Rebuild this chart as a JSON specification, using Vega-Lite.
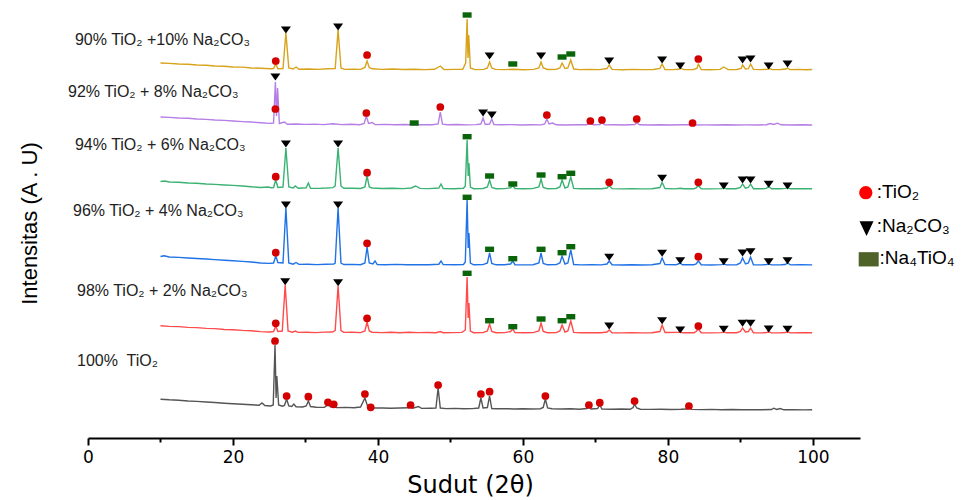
{
"$schema": "https://vega.github.io/schema/vega-lite/v6.json",
"autosize": "none",
"width": 772,
"height": 433,
"padding": {"left": 88, "top": 5, "right": 113, "bottom": 62},
"background": "white",
"config": {"view": {"stroke": null}},
"datasets": {
"lines": [
{"s":"T90","x":10,"y":375},{"s":"T90","x":11.2,"y":374.6},{"s":"T90","x":12.5,"y":374},{"s":"T90","x":13.8,"y":373.8},{"s":"T90","x":15,"y":373},{"s":"T90","x":16.3,"y":372.8},{"s":"T90","x":17.5,"y":372},{"s":"T90","x":18.8,"y":371.8},{"s":"T90","x":20,"y":371},{"s":"T90","x":21.3,"y":370.9},{"s":"T90","x":22.5,"y":370},{"s":"T90","x":23.8,"y":369.8},{"s":"T90","x":25.3,"y":369.2},{"s":"T90","x":25.6,"y":369.5},{"s":"T90","x":25.9,"y":374},{"s":"T90","x":26.2,"y":369.3},{"s":"T90","x":26.9,"y":369.5},{"s":"T90","x":27.3,"y":405},{"s":"T90","x":27.7,"y":370},{"s":"T90","x":28.3,"y":369},{"s":"T90","x":28.7,"y":371},{"s":"T90","x":29.1,"y":368.8},{"s":"T90","x":30.5,"y":369},{"s":"T90","x":31.8,"y":368.6},{"s":"T90","x":33,"y":369.2},{"s":"T90","x":34.1,"y":369.5},{"s":"T90","x":34.5,"y":408},{"s":"T90","x":34.9,"y":370},{"s":"T90","x":35.4,"y":368.6},{"s":"T90","x":36.5,"y":368.8},{"s":"T90","x":37.6,"y":368.6},{"s":"T90","x":38.2,"y":370.5},{"s":"T90","x":38.5,"y":377},{"s":"T90","x":38.8,"y":370.5},{"s":"T90","x":39.2,"y":369.2},{"s":"T90","x":40.5,"y":368.6},{"s":"T90","x":42,"y":369},{"s":"T90","x":43.5,"y":368.5},{"s":"T90","x":45,"y":368.8},{"s":"T90","x":46.5,"y":368.4},{"s":"T90","x":47.8,"y":368.7},{"s":"T90","x":48.6,"y":372},{"s":"T90","x":49.1,"y":368.4},{"s":"T90","x":50.5,"y":368.6},{"s":"T90","x":51.7,"y":368.8},{"s":"T90","x":52.1,"y":375},{"s":"T90","x":52.3,"y":419},{"s":"T90","x":52.42,"y":380},{"s":"T90","x":52.52,"y":403},{"s":"T90","x":52.75,"y":370},{"s":"T90","x":53.4,"y":368.4},{"s":"T90","x":54.6,"y":368.6},{"s":"T90","x":55.1,"y":370},{"s":"T90","x":55.4,"y":376},{"s":"T90","x":55.7,"y":370},{"s":"T90","x":56.2,"y":368.6},{"s":"T90","x":57.5,"y":368.4},{"s":"T90","x":58.6,"y":368.8},{"s":"T90","x":60,"y":368.3},{"s":"T90","x":61.5,"y":368.6},{"s":"T90","x":62.2,"y":370},{"s":"T90","x":62.5,"y":376},{"s":"T90","x":62.8,"y":370},{"s":"T90","x":63.4,"y":368.5},{"s":"T90","x":64.6,"y":368.6},{"s":"T90","x":65.1,"y":370},{"s":"T90","x":65.4,"y":375},{"s":"T90","x":65.8,"y":369.5},{"s":"T90","x":66.2,"y":370},{"s":"T90","x":66.6,"y":378},{"s":"T90","x":67,"y":369},{"s":"T90","x":67.8,"y":368.4},{"s":"T90","x":69.2,"y":368.6},{"s":"T90","x":70.6,"y":368.4},{"s":"T90","x":71.6,"y":369.5},{"s":"T90","x":71.9,"y":373},{"s":"T90","x":72.3,"y":368.6},{"s":"T90","x":73.8,"y":368.3},{"s":"T90","x":75.2,"y":368.6},{"s":"T90","x":76.6,"y":368.4},{"s":"T90","x":78,"y":368.5},{"s":"T90","x":78.9,"y":369.6},{"s":"T90","x":79.2,"y":374},{"s":"T90","x":79.6,"y":368.5},{"s":"T90","x":80.6,"y":368.4},{"s":"T90","x":81.5,"y":368.7},{"s":"T90","x":81.8,"y":369.8},{"s":"T90","x":82.2,"y":368.4},{"s":"T90","x":83.5,"y":368.5},{"s":"T90","x":84,"y":369.6},{"s":"T90","x":84.2,"y":374},{"s":"T90","x":84.6,"y":368.5},{"s":"T90","x":85.8,"y":368.3},{"s":"T90","x":87.2,"y":368.6},{"s":"T90","x":87.7,"y":371},{"s":"T90","x":88.3,"y":368.4},{"s":"T90","x":89.5,"y":368.5},{"s":"T90","x":90.1,"y":369.5},{"s":"T90","x":90.3,"y":373},{"s":"T90","x":90.7,"y":369},{"s":"T90","x":91.1,"y":369.3},{"s":"T90","x":91.4,"y":374},{"s":"T90","x":91.8,"y":368.6},{"s":"T90","x":92.8,"y":368.4},{"s":"T90","x":93.7,"y":368.8},{"s":"T90","x":94,"y":369.5},{"s":"T90","x":94.4,"y":368.4},{"s":"T90","x":95.6,"y":368.5},{"s":"T90","x":96.3,"y":369},{"s":"T90","x":96.5,"y":370},{"s":"T90","x":96.8,"y":368.4},{"s":"T90","x":98,"y":368.6},{"s":"T90","x":99,"y":368.3},{"s":"T90","x":99.9,"y":368.5},

{"s":"T92","x":10,"y":321},{"s":"T92","x":11.2,"y":320.6},{"s":"T92","x":12.5,"y":320},{"s":"T92","x":13.8,"y":319.8},{"s":"T92","x":15,"y":319},{"s":"T92","x":16.3,"y":318.6},{"s":"T92","x":17.5,"y":318},{"s":"T92","x":18.8,"y":317.6},{"s":"T92","x":20,"y":317},{"s":"T92","x":21.3,"y":316.4},{"s":"T92","x":22.5,"y":316},{"s":"T92","x":23.8,"y":315.2},{"s":"T92","x":25,"y":314.6},{"s":"T92","x":25.6,"y":315},{"s":"T92","x":25.85,"y":356},{"s":"T92","x":26.0,"y":322},{"s":"T92","x":26.15,"y":350},{"s":"T92","x":26.4,"y":314.5},{"s":"T92","x":27.1,"y":316},{"s":"T92","x":27.5,"y":313.8},{"s":"T92","x":28.7,"y":314},{"s":"T92","x":30,"y":313.6},{"s":"T92","x":31.2,"y":313.9},{"s":"T92","x":32.5,"y":313.4},{"s":"T92","x":33.8,"y":314.2},{"s":"T92","x":35,"y":313.4},{"s":"T92","x":36.3,"y":313.7},{"s":"T92","x":37.5,"y":313.3},{"s":"T92","x":38.1,"y":314.5},{"s":"T92","x":38.4,"y":322},{"s":"T92","x":38.7,"y":314.5},{"s":"T92","x":39.2,"y":315.5},{"s":"T92","x":39.6,"y":313.4},{"s":"T92","x":41,"y":313.6},{"s":"T92","x":42.3,"y":313.2},{"s":"T92","x":43.6,"y":313.5},{"s":"T92","x":45,"y":313.2},{"s":"T92","x":46.3,"y":313.4},{"s":"T92","x":47.5,"y":313.2},{"s":"T92","x":48.3,"y":314},{"s":"T92","x":48.6,"y":326},{"s":"T92","x":48.9,"y":313.8},{"s":"T92","x":49.6,"y":313.2},{"s":"T92","x":51,"y":313.5},{"s":"T92","x":52.3,"y":313.1},{"s":"T92","x":53.5,"y":313.4},{"s":"T92","x":54.2,"y":314},{"s":"T92","x":54.5,"y":320},{"s":"T92","x":54.8,"y":313.6},{"s":"T92","x":55.4,"y":314},{"s":"T92","x":55.7,"y":319},{"s":"T92","x":56,"y":313.5},{"s":"T92","x":57,"y":313.2},{"s":"T92","x":58.4,"y":313.4},{"s":"T92","x":59.8,"y":313},{"s":"T92","x":61.2,"y":313.3},{"s":"T92","x":62.5,"y":313.1},{"s":"T92","x":63,"y":314},{"s":"T92","x":63.3,"y":319},{"s":"T92","x":63.6,"y":314},{"s":"T92","x":64.1,"y":315},{"s":"T92","x":64.6,"y":313.2},{"s":"T92","x":66,"y":313},{"s":"T92","x":67.4,"y":313.3},{"s":"T92","x":68.8,"y":313.2},{"s":"T92","x":69.3,"y":315.5},{"s":"T92","x":69.7,"y":313.2},{"s":"T92","x":70.6,"y":313.4},{"s":"T92","x":70.9,"y":315.5},{"s":"T92","x":71.3,"y":313.1},{"s":"T92","x":72.6,"y":313.2},{"s":"T92","x":74,"y":313},{"s":"T92","x":75.4,"y":313.5},{"s":"T92","x":75.7,"y":315},{"s":"T92","x":76.1,"y":313.2},{"s":"T92","x":77.5,"y":313},{"s":"T92","x":79,"y":313.3},{"s":"T92","x":80.4,"y":313},{"s":"T92","x":81.8,"y":313.2},{"s":"T92","x":83.2,"y":313.3},{"s":"T92","x":83.4,"y":314},{"s":"T92","x":83.7,"y":313},{"s":"T92","x":85.2,"y":313.1},{"s":"T92","x":86.6,"y":313},{"s":"T92","x":88,"y":313.2},{"s":"T92","x":89.4,"y":313},{"s":"T92","x":90.8,"y":313.1},{"s":"T92","x":92.2,"y":313},{"s":"T92","x":93.6,"y":313.3},{"s":"T92","x":94.1,"y":314.5},{"s":"T92","x":94.6,"y":313.5},{"s":"T92","x":95.1,"y":314.8},{"s":"T92","x":95.6,"y":313.2},{"s":"T92","x":97,"y":313},{"s":"T92","x":98.5,"y":313.2},{"s":"T92","x":99.9,"y":313},

{"s":"T94","x":10,"y":256.5},{"s":"T94","x":10.6,"y":257},{"s":"T94","x":11.2,"y":256},{"s":"T94","x":12.5,"y":255.8},{"s":"T94","x":13.8,"y":255},{"s":"T94","x":15,"y":254.8},{"s":"T94","x":16.3,"y":254},{"s":"T94","x":17.5,"y":253.6},{"s":"T94","x":18.8,"y":253},{"s":"T94","x":20,"y":252.6},{"s":"T94","x":21.3,"y":252},{"s":"T94","x":22.5,"y":251.2},{"s":"T94","x":23.8,"y":250.5},{"s":"T94","x":24.9,"y":251},{"s":"T94","x":25.3,"y":250.2},{"s":"T94","x":25.6,"y":250.5},{"s":"T94","x":25.9,"y":258},{"s":"T94","x":26.2,"y":250.5},{"s":"T94","x":26.9,"y":251},{"s":"T94","x":27.3,"y":290},{"s":"T94","x":27.7,"y":251},{"s":"T94","x":28.3,"y":250},{"s":"T94","x":28.6,"y":252},{"s":"T94","x":29,"y":249.8},{"s":"T94","x":30.1,"y":250.2},{"s":"T94","x":30.4,"y":255},{"s":"T94","x":30.7,"y":249.8},{"s":"T94","x":31.8,"y":249.6},{"s":"T94","x":33,"y":250},{"s":"T94","x":33.8,"y":250.4},{"s":"T94","x":34.1,"y":252},{"s":"T94","x":34.5,"y":290},{"s":"T94","x":34.9,"y":252},{"s":"T94","x":35.3,"y":249.7},{"s":"T94","x":36.5,"y":249.8},{"s":"T94","x":37.6,"y":249.5},{"s":"T94","x":38.2,"y":251},{"s":"T94","x":38.5,"y":262},{"s":"T94","x":38.8,"y":251},{"s":"T94","x":39.2,"y":250},{"s":"T94","x":40.5,"y":249.5},{"s":"T94","x":42,"y":249.8},{"s":"T94","x":43.5,"y":249.4},{"s":"T94","x":44.6,"y":250},{"s":"T94","x":45.2,"y":252},{"s":"T94","x":45.8,"y":249.6},{"s":"T94","x":47,"y":249.4},{"s":"T94","x":48.4,"y":250},{"s":"T94","x":48.7,"y":254},{"s":"T94","x":49,"y":249.5},{"s":"T94","x":50.5,"y":249.3},{"s":"T94","x":51.8,"y":249.8},{"s":"T94","x":52.05,"y":252},{"s":"T94","x":52.3,"y":298},{"s":"T94","x":52.45,"y":262},{"s":"T94","x":52.55,"y":275},{"s":"T94","x":52.75,"y":251},{"s":"T94","x":53.2,"y":249.3},{"s":"T94","x":54.5,"y":249.5},{"s":"T94","x":55.1,"y":251},{"s":"T94","x":55.4,"y":258},{"s":"T94","x":55.7,"y":250.5},{"s":"T94","x":56.3,"y":249.3},{"s":"T94","x":57.5,"y":249.4},{"s":"T94","x":58.3,"y":250.2},{"s":"T94","x":58.6,"y":252.5},{"s":"T94","x":58.9,"y":249.5},{"s":"T94","x":60,"y":249.3},{"s":"T94","x":61.3,"y":249.4},{"s":"T94","x":62.2,"y":251},{"s":"T94","x":62.5,"y":259},{"s":"T94","x":62.8,"y":250.5},{"s":"T94","x":63.4,"y":249.3},{"s":"T94","x":64.6,"y":249.5},{"s":"T94","x":65.1,"y":251},{"s":"T94","x":65.4,"y":258},{"s":"T94","x":65.8,"y":250},{"s":"T94","x":66.2,"y":251},{"s":"T94","x":66.6,"y":261},{"s":"T94","x":67,"y":249.6},{"s":"T94","x":68,"y":249.2},{"s":"T94","x":69.5,"y":249.4},{"s":"T94","x":70.8,"y":249.2},{"s":"T94","x":71.6,"y":250},{"s":"T94","x":71.9,"y":252.5},{"s":"T94","x":72.3,"y":249.4},{"s":"T94","x":73.6,"y":249.1},{"s":"T94","x":75,"y":249.3},{"s":"T94","x":76.4,"y":249.1},{"s":"T94","x":77.8,"y":249.3},{"s":"T94","x":78.9,"y":250.5},{"s":"T94","x":79.2,"y":255.5},{"s":"T94","x":79.6,"y":249.5},{"s":"T94","x":80.9,"y":249.1},{"s":"T94","x":81.7,"y":249.8},{"s":"T94","x":82.2,"y":249.2},{"s":"T94","x":83.6,"y":249.3},{"s":"T94","x":83.9,"y":250.2},{"s":"T94","x":84.2,"y":252.5},{"s":"T94","x":84.6,"y":249.3},{"s":"T94","x":85.9,"y":249.1},{"s":"T94","x":87.4,"y":249.4},{"s":"T94","x":87.7,"y":250.5},{"s":"T94","x":88.1,"y":249.2},{"s":"T94","x":89.4,"y":249.3},{"s":"T94","x":90,"y":250.5},{"s":"T94","x":90.3,"y":254},{"s":"T94","x":90.7,"y":249.8},{"s":"T94","x":91.1,"y":250.5},{"s":"T94","x":91.4,"y":254},{"s":"T94","x":91.8,"y":249.3},{"s":"T94","x":93,"y":249.2},{"s":"T94","x":93.6,"y":249.6},{"s":"T94","x":93.9,"y":251.5},{"s":"T94","x":94.3,"y":249.2},{"s":"T94","x":95.5,"y":249.3},{"s":"T94","x":96.2,"y":249.6},{"s":"T94","x":96.5,"y":250.5},{"s":"T94","x":96.9,"y":249.2},{"s":"T94","x":98.3,"y":249.4},{"s":"T94","x":99.9,"y":249.2},

{"s":"T96","x":10,"y":181.5},{"s":"T96","x":10.5,"y":182.3},{"s":"T96","x":11.2,"y":181},{"s":"T96","x":12.5,"y":180.6},{"s":"T96","x":13.8,"y":180},{"s":"T96","x":15,"y":179.5},{"s":"T96","x":16.3,"y":179},{"s":"T96","x":17.5,"y":178.4},{"s":"T96","x":18.8,"y":177.8},{"s":"T96","x":20,"y":177.2},{"s":"T96","x":21.3,"y":176.6},{"s":"T96","x":22.5,"y":176},{"s":"T96","x":23.8,"y":175},{"s":"T96","x":25,"y":174.6},{"s":"T96","x":25.6,"y":175},{"s":"T96","x":25.9,"y":182},{"s":"T96","x":26.2,"y":175.5},{"s":"T96","x":26.9,"y":175},{"s":"T96","x":27.3,"y":230},{"s":"T96","x":27.7,"y":175},{"s":"T96","x":28.3,"y":173.8},{"s":"T96","x":28.7,"y":175.5},{"s":"T96","x":29.1,"y":173.6},{"s":"T96","x":30.3,"y":173.8},{"s":"T96","x":31.6,"y":173.4},{"s":"T96","x":32.8,"y":173.7},{"s":"T96","x":33.9,"y":174},{"s":"T96","x":34.1,"y":175},{"s":"T96","x":34.5,"y":230},{"s":"T96","x":34.9,"y":175},{"s":"T96","x":35.3,"y":173.5},{"s":"T96","x":36.5,"y":173.6},{"s":"T96","x":37.6,"y":173.3},{"s":"T96","x":38.2,"y":175},{"s":"T96","x":38.5,"y":191},{"s":"T96","x":38.8,"y":175},{"s":"T96","x":39.3,"y":174},{"s":"T96","x":39.6,"y":177},{"s":"T96","x":39.9,"y":173.5},{"s":"T96","x":41,"y":173.3},{"s":"T96","x":42.5,"y":173.6},{"s":"T96","x":44,"y":173.2},{"s":"T96","x":45.5,"y":173.4},{"s":"T96","x":47,"y":173.2},{"s":"T96","x":48.4,"y":173.8},{"s":"T96","x":48.7,"y":177},{"s":"T96","x":49,"y":173.4},{"s":"T96","x":50.5,"y":173.2},{"s":"T96","x":51.8,"y":173.5},{"s":"T96","x":52.05,"y":176},{"s":"T96","x":52.3,"y":238},{"s":"T96","x":52.45,"y":190},{"s":"T96","x":52.55,"y":205},{"s":"T96","x":52.75,"y":175},{"s":"T96","x":53.2,"y":173.2},{"s":"T96","x":54.5,"y":173.4},{"s":"T96","x":55.1,"y":175},{"s":"T96","x":55.4,"y":185},{"s":"T96","x":55.7,"y":174.5},{"s":"T96","x":56.3,"y":173.2},{"s":"T96","x":57.5,"y":173.3},{"s":"T96","x":58.3,"y":174},{"s":"T96","x":58.6,"y":177},{"s":"T96","x":58.9,"y":173.3},{"s":"T96","x":60.2,"y":173.1},{"s":"T96","x":61.4,"y":173.3},{"s":"T96","x":62.2,"y":175},{"s":"T96","x":62.5,"y":185},{"s":"T96","x":62.8,"y":174.5},{"s":"T96","x":63.4,"y":173.2},{"s":"T96","x":64.6,"y":173.4},{"s":"T96","x":65.1,"y":175},{"s":"T96","x":65.4,"y":182},{"s":"T96","x":65.8,"y":174},{"s":"T96","x":66.2,"y":175},{"s":"T96","x":66.6,"y":188},{"s":"T96","x":67,"y":173.5},{"s":"T96","x":68,"y":173.1},{"s":"T96","x":69.5,"y":173.3},{"s":"T96","x":70.8,"y":173.1},{"s":"T96","x":71.6,"y":174},{"s":"T96","x":71.9,"y":177},{"s":"T96","x":72.3,"y":173.3},{"s":"T96","x":73.6,"y":173},{"s":"T96","x":75,"y":173.2},{"s":"T96","x":76.4,"y":173},{"s":"T96","x":77.8,"y":173.2},{"s":"T96","x":78.9,"y":174.5},{"s":"T96","x":79.2,"y":180},{"s":"T96","x":79.6,"y":173.5},{"s":"T96","x":81.1,"y":173.2},{"s":"T96","x":81.4,"y":174},{"s":"T96","x":81.7,"y":175},{"s":"T96","x":82,"y":173.2},{"s":"T96","x":83.6,"y":173.3},{"s":"T96","x":83.9,"y":174},{"s":"T96","x":84.2,"y":177},{"s":"T96","x":84.6,"y":173.3},{"s":"T96","x":86,"y":173},{"s":"T96","x":87.4,"y":173.4},{"s":"T96","x":87.7,"y":174},{"s":"T96","x":88.1,"y":173.1},{"s":"T96","x":89.5,"y":173.3},{"s":"T96","x":90,"y":175},{"s":"T96","x":90.3,"y":180},{"s":"T96","x":90.7,"y":174},{"s":"T96","x":91.1,"y":175},{"s":"T96","x":91.4,"y":181},{"s":"T96","x":91.8,"y":173.3},{"s":"T96","x":93,"y":173.1},{"s":"T96","x":93.6,"y":173.5},{"s":"T96","x":93.9,"y":174},{"s":"T96","x":94.3,"y":173.1},{"s":"T96","x":95.6,"y":173.2},{"s":"T96","x":96.2,"y":173.5},{"s":"T96","x":96.5,"y":175},{"s":"T96","x":96.9,"y":173.1},{"s":"T96","x":98.3,"y":173.3},{"s":"T96","x":99.9,"y":173.1},

{"s":"T98","x":10,"y":112.2},{"s":"T98","x":11.2,"y":111.6},{"s":"T98","x":12.5,"y":111.4},{"s":"T98","x":13.8,"y":110.6},{"s":"T98","x":15,"y":110.4},{"s":"T98","x":16.3,"y":109.6},{"s":"T98","x":17.5,"y":109.4},{"s":"T98","x":18.8,"y":108.5},{"s":"T98","x":20,"y":108.3},{"s":"T98","x":21.3,"y":107.6},{"s":"T98","x":22.5,"y":107.2},{"s":"T98","x":23.8,"y":106.4},{"s":"T98","x":25,"y":106},{"s":"T98","x":25.6,"y":106.5},{"s":"T98","x":25.9,"y":112},{"s":"T98","x":26.2,"y":106.5},{"s":"T98","x":26.8,"y":107},{"s":"T98","x":27.2,"y":153},{"s":"T98","x":27.6,"y":107},{"s":"T98","x":28.2,"y":105.8},{"s":"T98","x":28.6,"y":107},{"s":"T98","x":29,"y":105.6},{"s":"T98","x":30.2,"y":105.8},{"s":"T98","x":31.4,"y":105.4},{"s":"T98","x":32.6,"y":105.9},{"s":"T98","x":33.7,"y":106},{"s":"T98","x":34.1,"y":107.5},{"s":"T98","x":34.5,"y":152},{"s":"T98","x":34.9,"y":107.5},{"s":"T98","x":35.3,"y":105.6},{"s":"T98","x":36.5,"y":105.7},{"s":"T98","x":37.6,"y":105.4},{"s":"T98","x":38.2,"y":107},{"s":"T98","x":38.5,"y":116},{"s":"T98","x":38.8,"y":107},{"s":"T98","x":39.2,"y":105.8},{"s":"T98","x":40.5,"y":105.4},{"s":"T98","x":41.8,"y":105.7},{"s":"T98","x":43,"y":105.3},{"s":"T98","x":44.3,"y":105.8},{"s":"T98","x":45.5,"y":105.4},{"s":"T98","x":46.8,"y":105.5},{"s":"T98","x":48,"y":105.3},{"s":"T98","x":48.6,"y":106.5},{"s":"T98","x":49,"y":105.3},{"s":"T98","x":50.3,"y":105.4},{"s":"T98","x":51.6,"y":105.6},{"s":"T98","x":52.05,"y":108},{"s":"T98","x":52.3,"y":161},{"s":"T98","x":52.45,"y":120},{"s":"T98","x":52.55,"y":135},{"s":"T98","x":52.75,"y":107},{"s":"T98","x":53.2,"y":105.3},{"s":"T98","x":54.5,"y":105.4},{"s":"T98","x":55.1,"y":107},{"s":"T98","x":55.4,"y":114},{"s":"T98","x":55.7,"y":106.5},{"s":"T98","x":56.3,"y":105.3},{"s":"T98","x":57.5,"y":105.4},{"s":"T98","x":58.3,"y":106.5},{"s":"T98","x":58.6,"y":109},{"s":"T98","x":58.9,"y":105.5},{"s":"T98","x":60.2,"y":105.2},{"s":"T98","x":61.4,"y":105.4},{"s":"T98","x":62.2,"y":107},{"s":"T98","x":62.5,"y":115},{"s":"T98","x":62.8,"y":106.5},{"s":"T98","x":63.4,"y":105.3},{"s":"T98","x":64.6,"y":105.4},{"s":"T98","x":65.1,"y":107},{"s":"T98","x":65.4,"y":113},{"s":"T98","x":65.8,"y":106},{"s":"T98","x":66.2,"y":107},{"s":"T98","x":66.6,"y":117},{"s":"T98","x":67,"y":105.6},{"s":"T98","x":68,"y":105.2},{"s":"T98","x":69.5,"y":105.4},{"s":"T98","x":70.8,"y":105.2},{"s":"T98","x":71.6,"y":106},{"s":"T98","x":71.9,"y":108},{"s":"T98","x":72.3,"y":105.3},{"s":"T98","x":73.6,"y":105.1},{"s":"T98","x":75,"y":105.3},{"s":"T98","x":76.4,"y":105.1},{"s":"T98","x":77.8,"y":105.3},{"s":"T98","x":78.9,"y":106.5},{"s":"T98","x":79.2,"y":113},{"s":"T98","x":79.6,"y":105.5},{"s":"T98","x":81.4,"y":105.6},{"s":"T98","x":81.7,"y":106.2},{"s":"T98","x":82,"y":105.2},{"s":"T98","x":83.6,"y":105.3},{"s":"T98","x":83.9,"y":106.5},{"s":"T98","x":84.2,"y":109},{"s":"T98","x":84.6,"y":105.3},{"s":"T98","x":86,"y":105.1},{"s":"T98","x":87.4,"y":105.4},{"s":"T98","x":87.7,"y":106.2},{"s":"T98","x":88.1,"y":105.2},{"s":"T98","x":89.5,"y":105.3},{"s":"T98","x":90,"y":106.5},{"s":"T98","x":90.3,"y":110},{"s":"T98","x":90.7,"y":106},{"s":"T98","x":91.1,"y":106.5},{"s":"T98","x":91.4,"y":110},{"s":"T98","x":91.8,"y":105.3},{"s":"T98","x":93,"y":105.1},{"s":"T98","x":93.6,"y":105.5},{"s":"T98","x":93.9,"y":106.2},{"s":"T98","x":94.3,"y":105.1},{"s":"T98","x":95.6,"y":105.3},{"s":"T98","x":96.2,"y":105.5},{"s":"T98","x":96.5,"y":106.2},{"s":"T98","x":96.9,"y":105.1},{"s":"T98","x":98.3,"y":105.3},{"s":"T98","x":99.9,"y":105.2},

{"s":"T100","x":10,"y":38.8},{"s":"T100","x":11.2,"y":38.2},{"s":"T100","x":12.5,"y":37.8},{"s":"T100","x":13.8,"y":37},{"s":"T100","x":15,"y":36.6},{"s":"T100","x":16.3,"y":36},{"s":"T100","x":17.5,"y":35.5},{"s":"T100","x":18.8,"y":34.8},{"s":"T100","x":20,"y":34.3},{"s":"T100","x":21.3,"y":33.8},{"s":"T100","x":22.5,"y":33.2},{"s":"T100","x":23.6,"y":32.8},{"s":"T100","x":24,"y":35},{"s":"T100","x":24.4,"y":32.5},{"s":"T100","x":25.2,"y":32},{"s":"T100","x":25.55,"y":33},{"s":"T100","x":25.8,"y":93},{"s":"T100","x":25.95,"y":40},{"s":"T100","x":26.05,"y":62},{"s":"T100","x":26.3,"y":33},{"s":"T100","x":26.8,"y":31.8},{"s":"T100","x":27.1,"y":32.5},{"s":"T100","x":27.4,"y":39},{"s":"T100","x":27.7,"y":32},{"s":"T100","x":28.1,"y":31.5},{"s":"T100","x":28.4,"y":34},{"s":"T100","x":28.7,"y":31.2},{"s":"T100","x":29.6,"y":31},{"s":"T100","x":30.1,"y":32},{"s":"T100","x":30.4,"y":37},{"s":"T100","x":30.7,"y":31.5},{"s":"T100","x":31.5,"y":30.8},{"s":"T100","x":32.6,"y":30.6},{"s":"T100","x":33.1,"y":33},{"s":"T100","x":33.5,"y":31},{"s":"T100","x":33.9,"y":31.5},{"s":"T100","x":34.3,"y":30.4},{"s":"T100","x":35.5,"y":30.6},{"s":"T100","x":36.7,"y":30.2},{"s":"T100","x":37.6,"y":31},{"s":"T100","x":38.2,"y":40},{"s":"T100","x":38.6,"y":31},{"s":"T100","x":39,"y":30.5},{"s":"T100","x":39.4,"y":30},{"s":"T100","x":40.6,"y":30},{"s":"T100","x":41.8,"y":29.8},{"s":"T100","x":43,"y":30},{"s":"T100","x":44.2,"y":30.2},{"s":"T100","x":44.5,"y":31.5},{"s":"T100","x":44.8,"y":29.8},{"s":"T100","x":45.6,"y":31.5},{"s":"T100","x":46,"y":29.6},{"s":"T100","x":47.2,"y":29.8},{"s":"T100","x":48,"y":30},{"s":"T100","x":48.3,"y":50},{"s":"T100","x":48.6,"y":30},{"s":"T100","x":49.4,"y":29.4},{"s":"T100","x":50.6,"y":29.6},{"s":"T100","x":51.8,"y":29.2},{"s":"T100","x":53,"y":29.4},{"s":"T100","x":53.9,"y":30},{"s":"T100","x":54.2,"y":40},{"s":"T100","x":54.5,"y":30},{"s":"T100","x":55.1,"y":30.5},{"s":"T100","x":55.4,"y":42},{"s":"T100","x":55.7,"y":29.5},{"s":"T100","x":56.4,"y":29.2},{"s":"T100","x":57.6,"y":29.4},{"s":"T100","x":58.8,"y":29},{"s":"T100","x":60,"y":29.2},{"s":"T100","x":61.2,"y":29},{"s":"T100","x":62.4,"y":29.3},{"s":"T100","x":62.8,"y":30.5},{"s":"T100","x":63.1,"y":39},{"s":"T100","x":63.4,"y":30},{"s":"T100","x":64,"y":29.2},{"s":"T100","x":65.3,"y":29},{"s":"T100","x":66.6,"y":29.2},{"s":"T100","x":67.8,"y":28.8},{"s":"T100","x":68.8,"y":29.5},{"s":"T100","x":69.1,"y":31.5},{"s":"T100","x":69.4,"y":29},{"s":"T100","x":70.3,"y":29.5},{"s":"T100","x":70.6,"y":33},{"s":"T100","x":70.9,"y":29},{"s":"T100","x":72.2,"y":28.8},{"s":"T100","x":73.6,"y":29},{"s":"T100","x":74.8,"y":28.7},{"s":"T100","x":75.2,"y":30.5},{"s":"T100","x":75.4,"y":34},{"s":"T100","x":75.7,"y":30},{"s":"T100","x":76.2,"y":28.8},{"s":"T100","x":77.6,"y":28.6},{"s":"T100","x":79,"y":28.8},{"s":"T100","x":80.4,"y":28.5},{"s":"T100","x":81.8,"y":28.7},{"s":"T100","x":82.6,"y":29},{"s":"T100","x":82.9,"y":30.5},{"s":"T100","x":83.3,"y":28.6},{"s":"T100","x":84.6,"y":28.4},{"s":"T100","x":86,"y":28.6},{"s":"T100","x":87.4,"y":28.3},{"s":"T100","x":88.8,"y":28.5},{"s":"T100","x":90.2,"y":28.2},{"s":"T100","x":91.6,"y":28.4},{"s":"T100","x":93,"y":28.2},{"s":"T100","x":94.3,"y":28.5},{"s":"T100","x":94.6,"y":29.8},{"s":"T100","x":95,"y":28.5},{"s":"T100","x":95.5,"y":29.5},{"s":"T100","x":96,"y":28.2},{"s":"T100","x":97.4,"y":28.3},{"s":"T100","x":98.8,"y":28.1},{"s":"T100","x":99.9,"y":28.2}
],
"markers": [
{"p":"TiO2","x":25.9,"y":377},{"p":"Na2CO3","x":27.3,"y":408},{"p":"Na2CO3","x":34.5,"y":411},{"p":"TiO2","x":38.5,"y":383},{"p":"Na4TiO4","x":52.3,"y":423},{"p":"Na2CO3","x":55.4,"y":382},{"p":"Na4TiO4","x":58.6,"y":374},{"p":"Na2CO3","x":62.5,"y":382},{"p":"Na4TiO4","x":65.4,"y":381},{"p":"Na4TiO4","x":66.6,"y":384},{"p":"Na2CO3","x":71.9,"y":377},{"p":"Na2CO3","x":79.2,"y":378},{"p":"Na2CO3","x":81.7,"y":372},{"p":"TiO2","x":84.2,"y":379},{"p":"Na2CO3","x":90.3,"y":378},{"p":"Na2CO3","x":91.4,"y":379},{"p":"Na2CO3","x":93.9,"y":372},{"p":"Na2CO3","x":96.5,"y":374},
{"p":"Na2CO3","x":25.85,"y":361},{"p":"TiO2","x":25.85,"y":329},{"p":"TiO2","x":38.4,"y":325},{"p":"Na4TiO4","x":45.0,"y":315},{"p":"TiO2","x":48.6,"y":331},{"p":"Na2CO3","x":54.5,"y":325},{"p":"Na2CO3","x":55.7,"y":323},{"p":"TiO2","x":63.3,"y":323},{"p":"TiO2","x":69.3,"y":317},{"p":"TiO2","x":70.9,"y":318},{"p":"TiO2","x":75.7,"y":319},{"p":"TiO2","x":83.4,"y":315},
{"p":"TiO2","x":25.9,"y":261.3},{"p":"Na2CO3","x":27.3,"y":294},{"p":"Na2CO3","x":34.5,"y":294},{"p":"TiO2","x":38.5,"y":265.3},{"p":"Na4TiO4","x":52.3,"y":301.3},{"p":"Na4TiO4","x":55.4,"y":262},{"p":"Na4TiO4","x":58.6,"y":254},{"p":"Na4TiO4","x":62.5,"y":263},{"p":"Na4TiO4","x":65.4,"y":261.3},{"p":"Na4TiO4","x":66.6,"y":264.7},{"p":"TiO2","x":71.9,"y":255.7},{"p":"Na2CO3","x":79.2,"y":259.7},{"p":"TiO2","x":84.2,"y":255.7},{"p":"Na2CO3","x":87.7,"y":252},{"p":"Na2CO3","x":90.3,"y":258},{"p":"Na2CO3","x":91.4,"y":258},{"p":"Na2CO3","x":93.9,"y":253.7},{"p":"Na2CO3","x":96.5,"y":252},
{"p":"TiO2","x":25.9,"y":185.3},{"p":"Na2CO3","x":27.3,"y":233},{"p":"Na2CO3","x":34.5,"y":233},{"p":"TiO2","x":38.5,"y":194.7},{"p":"Na4TiO4","x":52.3,"y":240.7},{"p":"Na4TiO4","x":55.4,"y":188.7},{"p":"Na4TiO4","x":58.6,"y":179.3},{"p":"Na4TiO4","x":62.5,"y":188.7},{"p":"Na4TiO4","x":65.4,"y":185.3},{"p":"Na4TiO4","x":66.6,"y":191.3},{"p":"Na2CO3","x":71.9,"y":180.7},{"p":"Na2CO3","x":79.2,"y":184.7},{"p":"Na2CO3","x":81.7,"y":177.3},{"p":"TiO2","x":84.2,"y":181.3},{"p":"Na2CO3","x":87.7,"y":176.3},{"p":"Na2CO3","x":90.3,"y":185},{"p":"Na2CO3","x":91.4,"y":186.3},{"p":"Na2CO3","x":93.9,"y":176.3},{"p":"Na2CO3","x":96.5,"y":177.3},
{"p":"TiO2","x":25.9,"y":114.7},{"p":"Na2CO3","x":27.2,"y":156.3},{"p":"Na2CO3","x":34.5,"y":155.3},{"p":"TiO2","x":38.5,"y":119.7},{"p":"Na4TiO4","x":52.3,"y":164.7},{"p":"Na4TiO4","x":55.4,"y":117.3},{"p":"Na4TiO4","x":58.6,"y":111.3},{"p":"Na4TiO4","x":62.5,"y":119},{"p":"Na4TiO4","x":65.4,"y":117.3},{"p":"Na4TiO4","x":66.6,"y":121.3},{"p":"Na2CO3","x":71.9,"y":112},{"p":"Na2CO3","x":79.2,"y":117.3},{"p":"Na2CO3","x":81.7,"y":108},{"p":"TiO2","x":84.2,"y":112},{"p":"Na2CO3","x":87.7,"y":108.7},{"p":"Na2CO3","x":90.3,"y":114.7},{"p":"Na2CO3","x":91.4,"y":114.7},{"p":"Na2CO3","x":93.9,"y":109},{"p":"Na2CO3","x":96.5,"y":108.7},
{"p":"TiO2","x":25.8,"y":97},{"p":"TiO2","x":27.4,"y":42},{"p":"TiO2","x":30.4,"y":41.3},{"p":"TiO2","x":33.1,"y":35.7},{"p":"TiO2","x":33.9,"y":33.7},{"p":"TiO2","x":38.2,"y":44},{"p":"TiO2","x":39.0,"y":30.7},{"p":"TiO2","x":44.5,"y":33},{"p":"TiO2","x":48.3,"y":53},{"p":"TiO2","x":54.2,"y":44},{"p":"TiO2","x":55.4,"y":46.3},{"p":"TiO2","x":63.1,"y":42},{"p":"TiO2","x":69.1,"y":33},{"p":"TiO2","x":70.6,"y":35.3},{"p":"TiO2","x":75.4,"y":37},{"p":"TiO2","x":82.9,"y":32}
],
"labels": [
{"t":"90% TiO₂ +10% Na₂CO₃","x":-1.8,"y":393},
{"t":"92% TiO₂ + 8% Na₂CO₃","x":-2.76,"y":341.3},
{"t":"94% TiO₂ + 6% Na₂CO₃","x":-1.8,"y":288},
{"t":"96% TiO₂ + 4% Na₂CO₃","x":-2.07,"y":222},
{"t":"98% TiO₂ + 2% Na₂CO₃","x":-1.52,"y":142},
{"t":"100%\u00a0 TiO₂","x":-1.52,"y":72}
],
"legend": [
{"p":"TiO2","t":":TiO₂","x":107.3,"y":245.3,"tx":108.8,"ty":239.7},
{"p":"Na2CO3","t":":Na₂CO₃","x":107.4,"y":209.7,"tx":108.8,"ty":206.3},
{"p":"Na4TiO4","t":":Na₄TiO₄","x":107.7,"y":178.7,"tx":109.2,"ty":174}
]
},
"encoding": {
"x": {"field": "x", "type": "quantitative",
 "scale": {"domain": [0, 106.5], "nice": false, "zero": false},
 "axis": {"values": [0,10,20,30,40,50,60,70,80,90,100],
  "labelExpr": "datum.value % 20 === 0 ? datum.label : ''",
  "labelFlush": false, "grid": false,
  "domainColor": "#000000", "domainWidth": 2,
  "tickColor": "#000000", "tickWidth": 2,
  "tickSize": {"condition": {"test": "datum.value % 20 === 0", "value": 7}, "value": 4},
  "labelFont": "DejaVu Sans", "labelFontSize": 17, "labelColor": "#000000", "labelPadding": 4,
  "title": "Sudut (2θ)", "titleFont": "DejaVu Sans", "titleFontSize": 24, "titleFontWeight": "normal",
  "titleColor": "#000000", "titleX": 382, "titleY": 54, "titleBaseline": "alphabetic"}},
"y": {"field": "y", "type": "quantitative",
 "scale": {"domain": [0, 433], "nice": false, "zero": false},
 "axis": {"domain": false, "ticks": false, "labels": false, "grid": false,
  "title": "Intensitas (A . U)", "titleFont": "Liberation Sans", "titleFontSize": 22,
  "titleFontWeight": "normal", "titleColor": "#000000",
  "titleX": -47, "titleY": 218, "titleAngle": 270, "titleBaseline": "bottom"}}
},
"layer": [
{"data": {"name": "lines"},
 "mark": {"type": "line", "strokeWidth": 1.4, "interpolate": "linear"},
 "encoding": {"stroke": {"field": "s", "type": "nominal", "legend": null,
   "scale": {"domain": ["T90","T92","T94","T96","T98","T100"],
    "range": ["#d8a31a","#b57fe6","#3bb273","#2072e6","#ff4b4b","#555555"]}}}},
{"data": {"name": "markers"}, "transform": [{"filter": "datum.p === 'TiO2'"}],
 "mark": {"type": "point", "shape": "circle", "filled": true, "size": 60, "color": "#d40000", "opacity": 1}},
{"data": {"name": "markers"}, "transform": [{"filter": "datum.p === 'Na2CO3'"}],
 "mark": {"type": "point", "shape": "M-1,-0.7L1,-0.7L0,0.7Z", "filled": true, "size": 100, "color": "#000000", "opacity": 1}},
{"data": {"name": "markers"}, "transform": [{"filter": "datum.p === 'Na4TiO4'"}],
 "mark": {"type": "point", "shape": "M-1,-0.6L1,-0.6L1,0.6L-1,0.6Z", "filled": true, "size": 81, "color": "#0a640a", "opacity": 1}},
{"data": {"name": "labels"},
 "mark": {"type": "text", "align": "left", "baseline": "alphabetic", "font": "Liberation Sans", "fontSize": 16, "color": "#222222"},
 "encoding": {"text": {"field": "t"}}},
{"data": {"name": "legend"}, "transform": [{"filter": "datum.p === 'TiO2'"}],
 "mark": {"type": "point", "shape": "circle", "filled": true, "size": 177, "color": "#ff0000", "opacity": 1}},
{"data": {"name": "legend"}, "transform": [{"filter": "datum.p === 'Na2CO3'"}],
 "mark": {"type": "point", "shape": "M-1,-1L1,-1L0,1.1Z", "filled": true, "size": 196, "color": "#000000", "opacity": 1}},
{"data": {"name": "legend"}, "transform": [{"filter": "datum.p === 'Na4TiO4'"}],
 "mark": {"type": "point", "shape": "M-1.4,-1L1.4,-1L1.4,1L-1.4,1Z", "filled": true, "size": 204, "color": "#4f6228", "opacity": 1}},
{"data": {"name": "legend"},
 "mark": {"type": "text", "align": "left", "baseline": "alphabetic", "font": "Liberation Sans", "fontSize": 19, "color": "#000000"},
 "encoding": {"text": {"field": "t"},
  "x": {"field": "tx", "type": "quantitative"},
  "y": {"field": "ty", "type": "quantitative"}}}
]
}
